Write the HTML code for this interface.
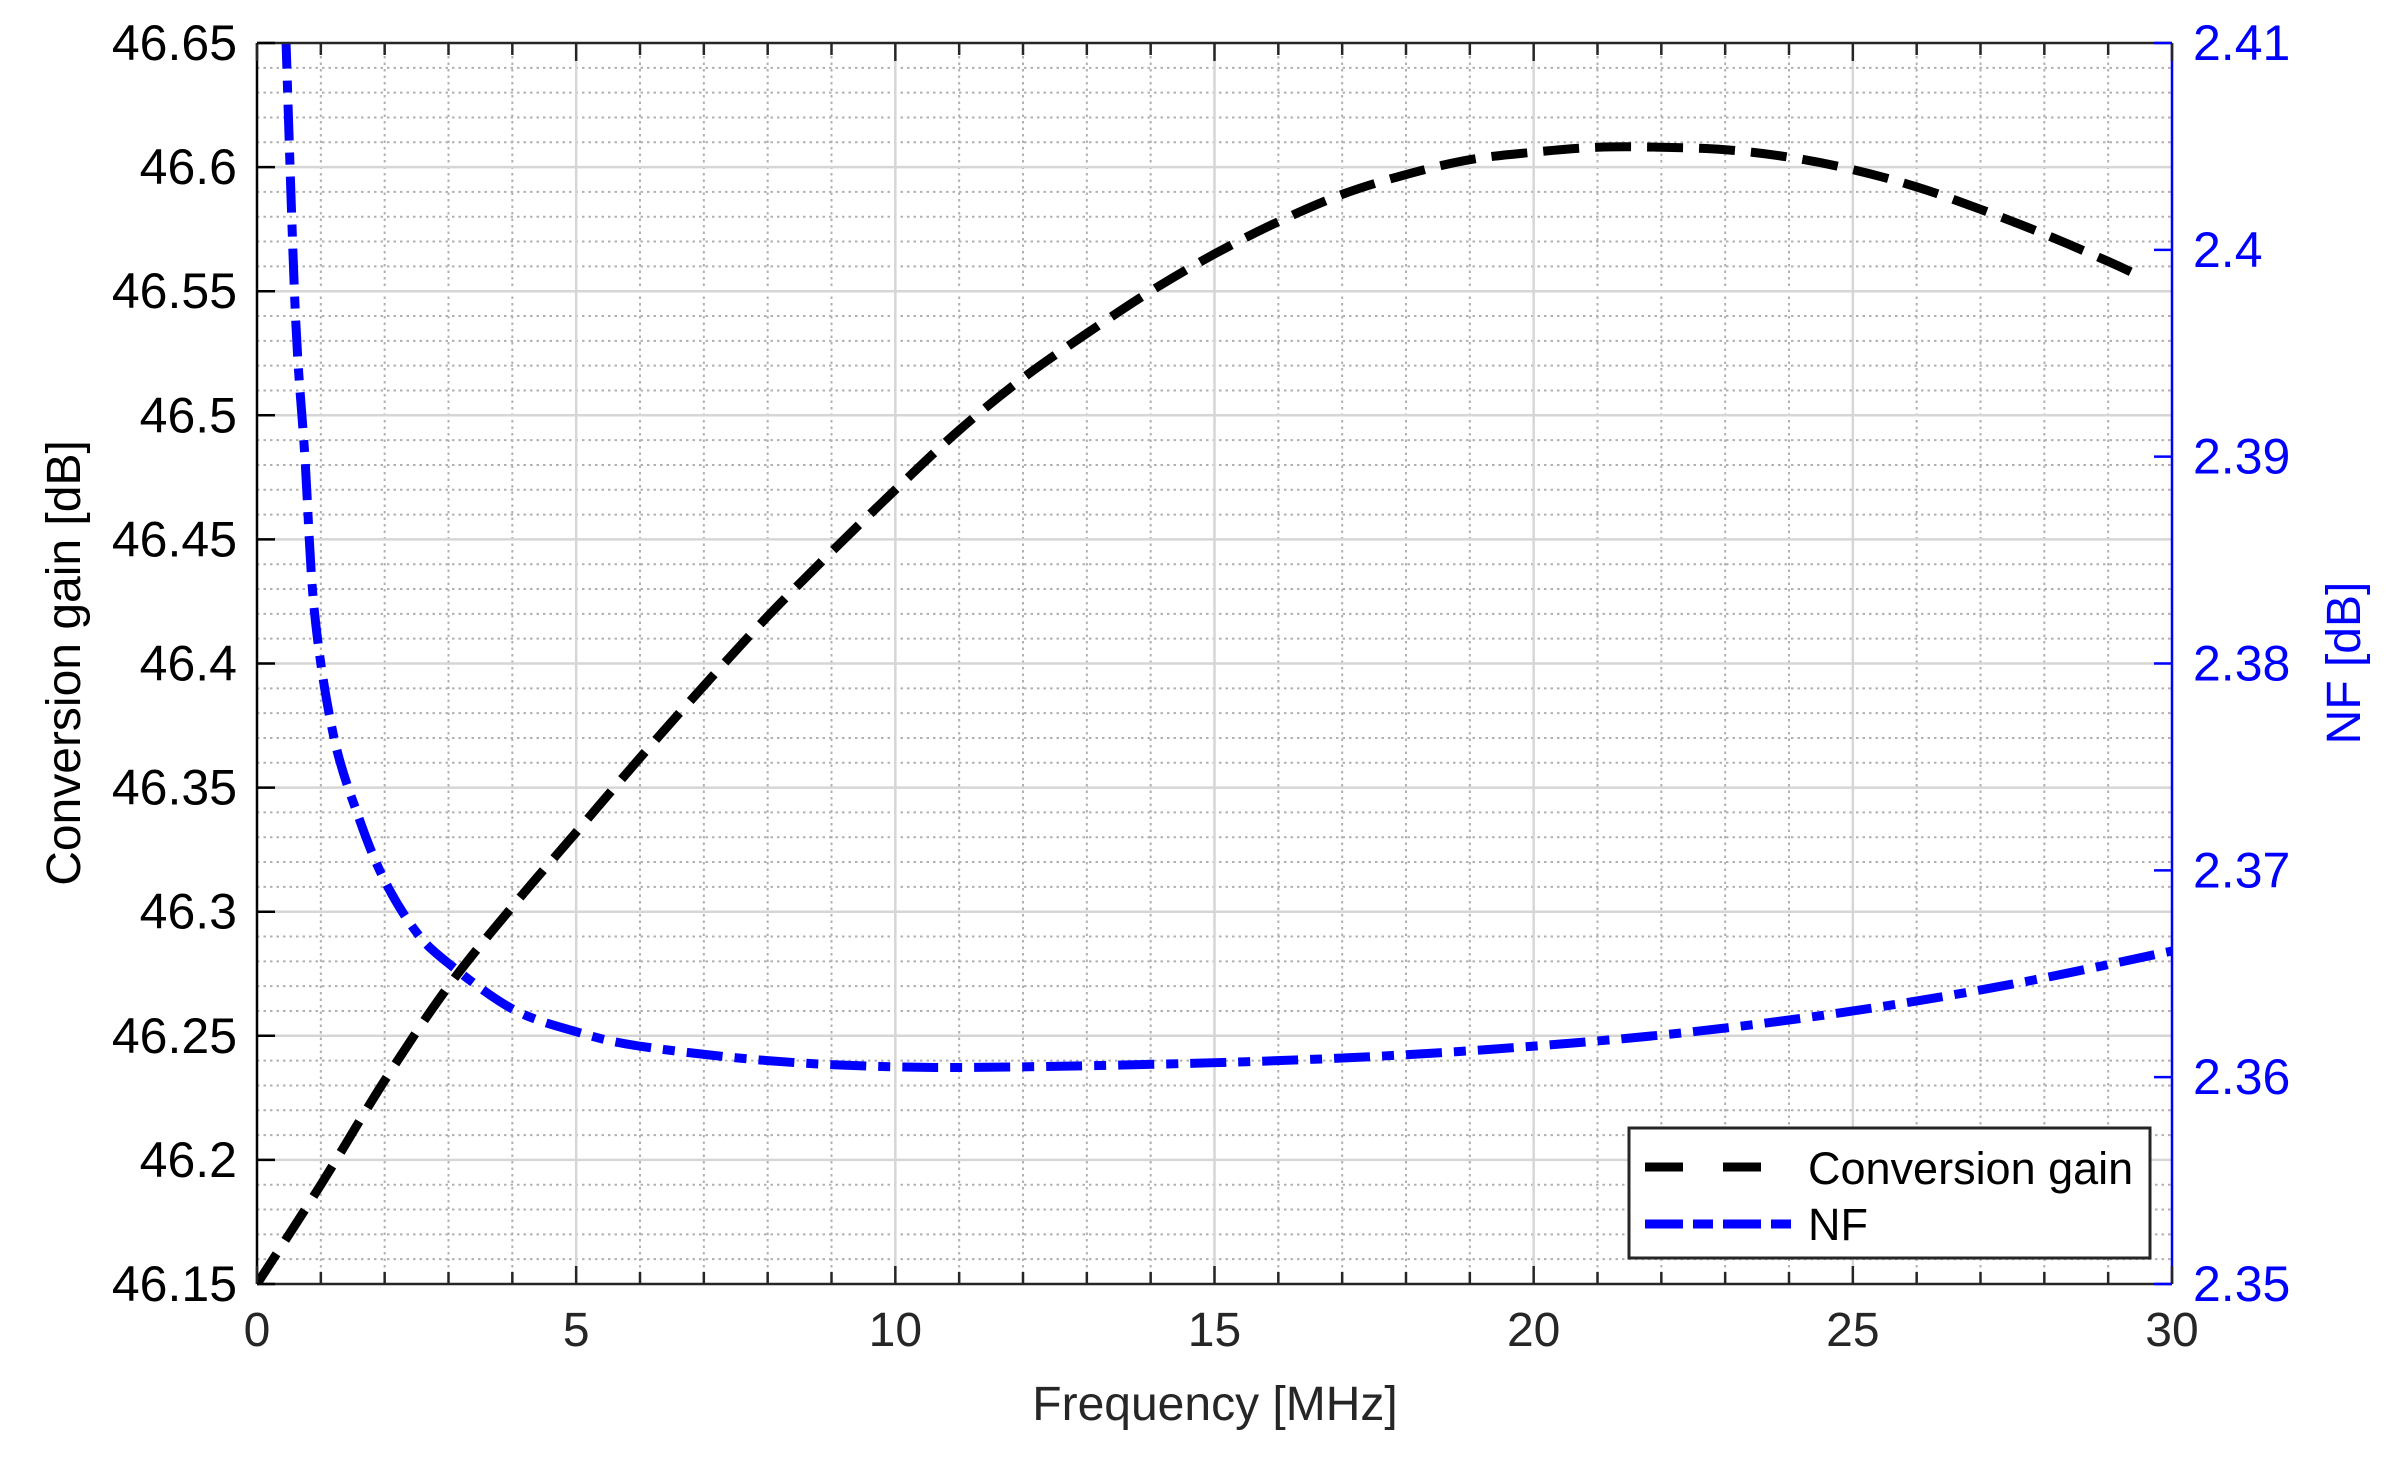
<!DOCTYPE html>
<html><head><meta charset="utf-8"><style>
html,body{margin:0;padding:0;background:#fff;}
svg text{font-family:"Liberation Sans",Arial,sans-serif;}
</style></head><body>
<svg id="s" width="2396" height="1467" xmlns="http://www.w3.org/2000/svg"></svg>
<script>
const L=257,R=2172,T=43,B=1284;
const X=f=>L+(R-L)*f/30;
const YG=g=>B-(B-T)*(g-46.15)/0.5;
const YN=n=>B-(B-T)*(n-2.35)/0.06;
let h='<rect width="2396" height="1467" fill="#fff"/>';
for(let i=1;i<30;i++){if(i%5)h+=`<line x1="${X(i)}" y1="${T}" x2="${X(i)}" y2="${B}" stroke="#b0b0b0" stroke-width="2" stroke-dasharray="2.5,4"/>`;}
for(let i=1;i<50;i++){if(i%5)h+=`<line x1="${L}" y1="${YG(46.15+i*0.01)}" x2="${R}" y2="${YG(46.15+i*0.01)}" stroke="#b0b0b0" stroke-width="2" stroke-dasharray="2.5,4"/>`;}
for(let i=5;i<30;i+=5)h+=`<line x1="${X(i)}" y1="${T}" x2="${X(i)}" y2="${B}" stroke="#d6d6d6" stroke-width="2.5"/>`;
for(let i=1;i<10;i++)h+=`<line x1="${L}" y1="${YG(46.15+i*0.05)}" x2="${R}" y2="${YG(46.15+i*0.05)}" stroke="#d6d6d6" stroke-width="2.5"/>`;
function path(pts){let d=`M${pts[0][0]},${pts[0][1]}`;for(let i=0;i<pts.length-1;i++){const p0=pts[Math.max(i-1,0)],p1=pts[i],p2=pts[i+1],p3=pts[Math.min(i+2,pts.length-1)];d+=` C${p1[0]+(p2[0]-p0[0])/6},${p1[1]+(p2[1]-p0[1])/6} ${p2[0]-(p3[0]-p1[0])/6},${p2[1]-(p3[1]-p1[1])/6} ${p2[0]},${p2[1]}`;}return d;}
const g=[[0,46.15],[1,46.19],[2,46.232],[3,46.27],[4,46.302],[5,46.332],[6,46.362],[7,46.391],[8,46.419],[9,46.445],[10,46.47],[11,46.494],[12,46.515],[13,46.533],[14,46.55],[15,46.565],[16,46.578],[17,46.589],[18,46.597],[19,46.603],[20,46.606],[21,46.608],[22,46.608],[23,46.607],[24,46.604],[25,46.599],[26,46.592],[27,46.583],[28,46.573],[29,46.562],[29.5,46.556]].map(p=>[X(p[0]),YG(p[1])]);
const n=[[0.45,2.4105],[0.6,2.397],[0.75,2.39],[0.9,2.3825],[1.2,2.3765],[1.6,2.3725],[2,2.3695],[2.5,2.367],[3,2.3655],[4,2.3633],[5,2.3622],[6,2.3615],[8,2.3608],[10,2.3605],[12,2.3605],[15,2.3607],[17.5,2.361],[20,2.3615],[22.5,2.3622],[25,2.3632],[27.5,2.3645],[30,2.3661]].map(p=>[X(p[0]),YN(p[1])]);
h+=`<defs><clipPath id="c"><rect x="${L}" y="${T}" width="${R-L}" height="${B-T}"/></clipPath></defs>`;
h+=`<g clip-path="url(#c)"><path d="${path(g)}" fill="none" stroke="#000" stroke-width="9" stroke-dasharray="36,16"/>`;
h+=`<path d="${path(n)}" fill="none" stroke="#0000ff" stroke-width="9" stroke-dasharray="36,12,12,12"/></g>`;
h+=`<line x1="${L}" y1="${T}" x2="${R}" y2="${T}" stroke="#262626" stroke-width="2.5"/>`;
h+=`<line x1="${L}" y1="${B}" x2="${R}" y2="${B}" stroke="#262626" stroke-width="2.5"/>`;
h+=`<line x1="${L}" y1="${T}" x2="${L}" y2="${B}" stroke="#000" stroke-width="2.5"/>`;
h+=`<line x1="${R}" y1="${T}" x2="${R}" y2="${B}" stroke="#0000ff" stroke-width="2.5"/>`;
for(let i=0;i<=30;i++){const len=i%5?12:18;h+=`<line x1="${X(i)}" y1="${B}" x2="${X(i)}" y2="${B-len}" stroke="#262626" stroke-width="2.5"/><line x1="${X(i)}" y1="${T}" x2="${X(i)}" y2="${T+len}" stroke="#262626" stroke-width="2.5"/>`;}
for(let i=0;i<=30;i+=5)h+=`<text x="${X(i)}" y="${B+62}" font-size="48" text-anchor="middle" fill="#262626">${i}</text>`;
const gl=["46.15","46.2","46.25","46.3","46.35","46.4","46.45","46.5","46.55","46.6","46.65"];
gl.forEach((t,i)=>{const y=YG(46.15+i*0.05);h+=`<line x1="${L}" y1="${y}" x2="${L+18}" y2="${y}" stroke="#000" stroke-width="2.5"/><text x="237" y="${y+17}" font-size="50" text-anchor="end" fill="#000">${t}</text>`;});
["2.35","2.36","2.37","2.38","2.39","2.4","2.41"].forEach((t,i)=>{const y=YN(2.35+i*0.01);h+=`<line x1="${R}" y1="${y}" x2="${R-18}" y2="${y}" stroke="#0000ff" stroke-width="2.5"/><text x="2193" y="${y+17}" font-size="50" fill="#0000ff">${t}</text>`;});
h+=`<text x="1215" y="1420" font-size="48" text-anchor="middle" fill="#262626">Frequency [MHz]</text>`;
h+=`<text transform="translate(80,663) rotate(-90)" font-size="48" text-anchor="middle" fill="#000">Conversion gain [dB]</text>`;
h+=`<text transform="translate(2360,663) rotate(-90)" font-size="48" text-anchor="middle" fill="#0000ff">NF [dB]</text>`;
h+=`<rect x="1629" y="1128" width="521" height="130" fill="#fff" stroke="#262626" stroke-width="3"/>`;
h+=`<line x1="1645" y1="1167" x2="1763" y2="1167" stroke="#000" stroke-width="9" stroke-dasharray="38,40"/>`;
h+=`<line x1="1645" y1="1224" x2="1792" y2="1224" stroke="#0000ff" stroke-width="9" stroke-dasharray="38,10,20,10"/>`;
h+=`<text x="1808" y="1184" font-size="45" fill="#000">Conversion gain</text>`;
h+=`<text x="1808" y="1240" font-size="45" fill="#000">NF</text>`;
document.getElementById('s').innerHTML=h;
</script>
</body></html>
